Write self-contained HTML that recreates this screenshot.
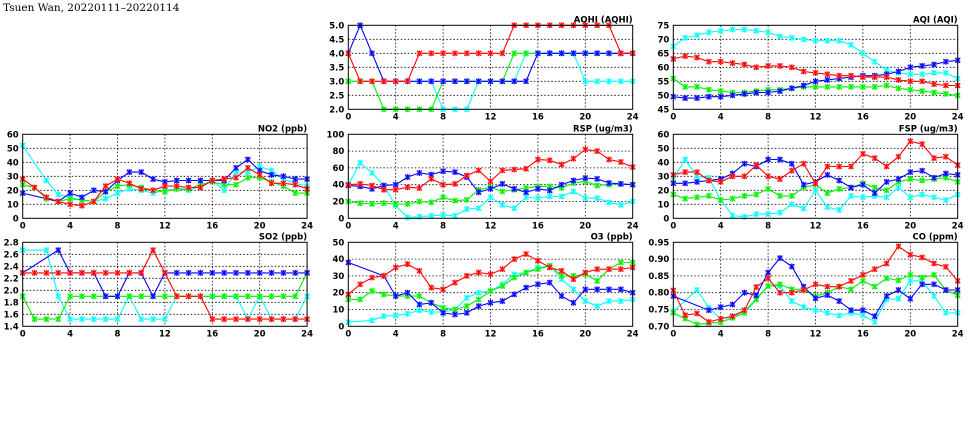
<!DOCTYPE html>
<html><head><meta charset="utf-8"><style>
html,body{margin:0;padding:0;background:#fff;width:975px;height:447px;overflow:hidden}
svg text{font-family:"DejaVu Sans","Liberation Sans",sans-serif;font-weight:bold;font-size:8.5px;fill:#000}
</style></head><body>
<svg id="s" width="975" height="447" viewBox="0 0 975 447" xmlns="http://www.w3.org/2000/svg">
<text x="3" y="11" style="font-family:'DejaVu Serif','Liberation Serif',serif;font-size:10.5px;font-weight:normal">Tsuen Wan, 20220111–20220114</text>
</svg>
<script>
const N=null;
const P=[
{t:"AQHI (AQHI)",c:1,r:0,min:2,max:5,st:0.5,d:1,s:{
c:[3,3,3,3,3,3,3,3,2,2,2,3,3,3,3,4,4,4,4,4,3,3,3,3,3],
g:[3,3,3,2,2,2,2,2,3,3,3,3,3,3,4,4,4,4,4,4,4,4,4,4,4],
b:[4,5,4,3,3,3,3,3,3,3,3,3,3,3,3,3,4,4,4,4,4,4,4,4,4],
r:[4,3,3,3,3,3,4,4,4,4,4,4,4,4,5,5,5,5,5,5,5,5,5,4,4]}},
{t:"AQI (AQI)",c:2,r:0,min:45,max:75,st:5,d:0,s:{
c:[67.5,70.5,71.5,72.5,73,73.5,73.5,73,72.5,71,70.5,70,69.5,69.5,69.5,68,65,62,59,58,57.5,57.5,58,58,56],
g:[56,53,53,52,51.5,51,51,51.5,52,52,52.5,53,53,53,53,53,53,53,53.5,52.5,52,51.5,51,50.5,50],
b:[49.5,49,49,49.5,49.5,50,50.5,51,51,51.5,52.5,53.5,55,55.5,56,56.5,57,57,57.5,58.5,60,60.5,61,62,62.5],
r:[63,64,63.5,62,62,61.5,61,60,60.5,60.5,60,58.5,58,57.5,57,57,56.5,56.5,56.5,55.5,55,55,54,53.5,53.5]}},
{t:"NO2 (ppb)",c:0,r:1,min:0,max:60,st:10,d:0,s:{
c:[52,N,27,17,15,13,12,14,18,21,20,18,20,21,20,23,27,20,33,33,37,34,28,25,23],
g:[24,22,14,12,14,13,12,19,23,24,22,20,19,21,21,24,26,24,24,29,29,26,23,18,18],
b:[18,N,N,12,18,15,20,19,27,33,33,28,26,27,27,27,27,27,36,42,34,31,30,28,28],
r:[28,22,15,12,10,9,12,23,28,25,21,20,23,23,22,22,27,28,29,36,31,25,25,24,21]}},
{t:"RSP (ug/m3)",c:1,r:1,min:0,max:100,st:20,d:0,s:{
c:[40,66,54,39,15,1,2,3,4,3,11,12,25,16,12,25,24,26,26,32,24,24,19,16,20],
g:[20,18,17,18,17,17,20,19,25,21,22,34,37,32,34,36,38,38,36,42,44,39,40,41,40],
b:[39,38,35,39,40,49,54,52,56,55,49,31,35,41,35,31,35,33,40,45,48,47,42,41,40],
r:[40,41,39,34,34,37,36,47,40,41,51,57,44,57,58,59,70,69,64,71,82,80,70,67,61]}},
{t:"FSP (ug/m3)",c:2,r:1,min:0,max:60,st:10,d:0,s:{
c:[28,42,30,29,13,2,1,3,3,4,10,7,20,8,6,16,15,16,15,22,15,17,15,13,17],
g:[17,14,15,16,13,14,16,17,21,16,16,22,24,18,21,22,25,22,20,26,28,27,28,29,26],
b:[25,25,26,27,28,32,39,37,42,42,39,24,26,31,27,22,24,18,26,28,33,34,29,32,31],
r:[31,33,33,27,26,30,30,38,30,28,34,39,25,37,37,37,46,43,37,44,55,53,43,44,38]}},
{t:"SO2 (ppb)",c:0,r:2,min:1.4,max:2.8,st:0.2,d:1,s:{
c:[2.67,N,2.67,1.9,1.52,1.52,1.52,1.52,1.52,1.9,1.52,1.52,1.52,1.9,1.9,1.9,1.9,1.9,1.9,1.52,1.9,1.52,1.52,1.52,1.9],
g:[1.9,1.52,1.52,1.52,1.9,1.9,1.9,1.9,1.9,1.9,1.9,1.9,1.9,1.9,1.9,1.9,1.9,1.9,1.9,1.9,1.9,1.9,1.9,1.9,2.29],
b:[2.29,N,N,2.67,2.29,2.29,2.29,1.9,1.9,2.29,2.29,1.9,2.29,2.29,2.29,2.29,2.29,2.29,2.29,2.29,2.29,2.29,2.29,2.29,2.29],
r:[2.29,2.29,2.29,2.29,2.29,2.29,2.29,2.29,2.29,2.29,2.29,2.67,2.29,1.9,1.9,1.9,1.52,1.52,1.52,1.52,1.52,1.52,1.52,1.52,1.52]}},
{t:"O3 (ppb)",c:1,r:2,min:0,max:50,st:10,d:0,s:{
c:[2.5,N,3.5,6,6.5,7.5,9.5,8.5,8.5,10,17,20,21,25,31,32,35,36,28,22,15,12,15,15,16],
g:[16,16,21,19,18,18,18,14,11,10,12,16,21,24,29,32,34,36,30,30,31,27,34,38,38],
b:[38,N,N,30,18,20,13,14,8,7,8,12,14,15,19,23,25,26,18,14,22,22,22,22,20],
r:[19,25,29,30,35,37,33,23,22,26,30,32,31,34,40,43,39,35,33,28,32,34,34,34,35]}},
{t:"CO (ppm)",c:2,r:2,min:0.7,max:0.95,st:0.05,d:2,s:{
c:[0.745,N,0.808,0.755,0.722,0.728,0.745,0.783,0.82,0.82,0.775,0.757,0.748,0.74,0.732,0.74,0.733,0.713,0.78,0.782,0.835,0.835,0.79,0.74,0.74],
g:[0.74,0.723,0.705,0.71,0.712,0.725,0.74,0.78,0.82,0.825,0.81,0.81,0.79,0.8,0.818,0.81,0.835,0.818,0.843,0.837,0.853,0.845,0.853,0.808,0.792],
b:[0.79,N,N,0.748,0.757,0.765,0.8,0.792,0.86,0.903,0.878,0.818,0.783,0.793,0.775,0.748,0.748,0.73,0.79,0.808,0.782,0.825,0.825,0.808,0.808],
r:[0.807,0.733,0.738,0.713,0.722,0.73,0.748,0.817,0.843,0.8,0.8,0.808,0.825,0.818,0.818,0.835,0.853,0.87,0.887,0.938,0.913,0.905,0.887,0.877,0.835]}}
];
const CX=[22.7,348.3,673.3],RY=[25.3,134.3,242.3],W=284.4,H=84;
const COL={c:"#00ffff",g:"#00ee00",b:"#0000ff",r:"#ff0000"};
const MK={c:"#80ffff",g:"#60ff60",b:"#6060ff",r:"#ff7070"};
let o="";
for(const p of P){
 const x0=CX[p.c],y0=RY[p.r];
 const X=i=>x0+i*W/24, Y=v=>y0+H-(v-p.min)/(p.max-p.min)*H;
 const nt=Math.round((p.max-p.min)/p.st);
 for(let k=0;k<=nt;k++){const v=p.min+k*p.st,y=Y(v);
  if(k>0&&k<nt)o+=`<line x1="${x0}" x2="${x0+W}" y1="${y}" y2="${y}" stroke="#000" stroke-width="0.8" stroke-dasharray="1.5,2"/>`;
  o+=`<text x="${x0-4}" y="${y+3}" text-anchor="end">${v.toFixed(p.d)}</text>`;}
 for(let i=0;i<=24;i+=4){const x=X(i);
  if(i>0&&i<24)o+=`<line x1="${x}" x2="${x}" y1="${y0}" y2="${y0+H}" stroke="#000" stroke-width="0.8" stroke-dasharray="1.5,2"/>`;
  o+=`<text x="${x}" y="${y0+H+10}" text-anchor="middle">${i}</text>`;}
 o+=`<text x="${x0+W}" y="${y0-3}" text-anchor="end">${p.t}</text>`;
 for(const k of ["c","g","b","r"]){
  const a=p.s[k];let pts=[];
  a.forEach((v,i)=>{if(v!==null)pts.push(X(i).toFixed(1)+","+Y(v).toFixed(1));});
  o+=`<polyline points="${pts.join(" ")}" fill="none" stroke="${COL[k]}" stroke-width="1.1"/>`;
  a.forEach((v,i)=>{if(v===null)return;const x=X(i),y=Y(v);
   o+=`<rect x="${x-2.5}" y="${y-2.5}" width="5" height="5" fill="${MK[k]}" opacity="0.8"/>`;
   o+=`<path d="M${x-2.5} ${y-2.5}L${x+2.5} ${y+2.5}M${x-2.5} ${y+2.5}L${x+2.5} ${y-2.5}M${x} ${y-3}V${y+3}" stroke="${COL[k]}" stroke-width="1"/>`;});
 }
 o+=`<rect x="${x0}" y="${y0}" width="${W}" height="${H}" fill="none" stroke="#000" stroke-width="1"/>`;
}
document.getElementById("s").insertAdjacentHTML("beforeend",o);
</script>
</body></html>
